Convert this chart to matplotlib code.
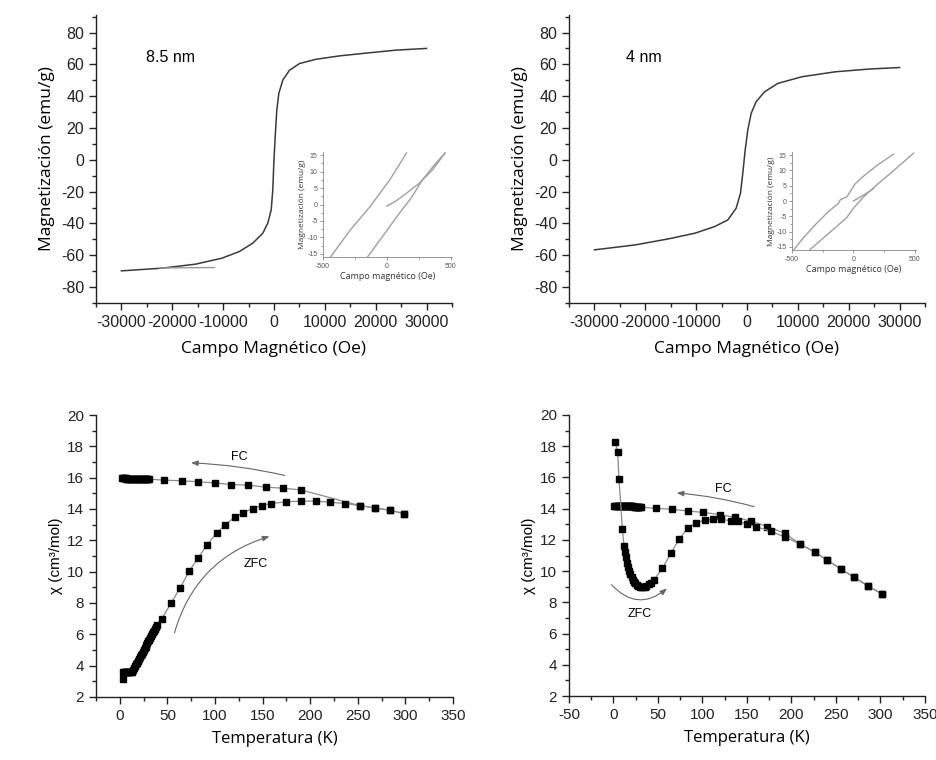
import matplotlib
matplotlib.use("Agg")
import matplotlib.pyplot as plt
from matplotlib.patches import FancyArrowPatch
from matplotlib.ticker import MultipleLocator

plt.rcParams["axes.unicode_minus"] = False

# ---------------- data ----------------
# M(H) loops (main panels)
H_85 = [-30000, -22000, -15440, -10200, -6790, -4170, -2200, -1220, -550, -236, -39, 236, 551, 944, 1730, 3050, 5020, 8300, 12900, 17340, 23900, 30000]
M_85 = [-69.8, -68.1, -65.6, -61.8, -57.6, -52.4, -46.1, -39.8, -31.5, -18.9, -2.2, 14.5, 31.2, 41.7, 50.1, 56.3, 60.5, 63.2, 65.3, 66.8, 68.9, 70.0]
H_85_ret = [-22500, -11700]
M_85_ret = [-68.0, -67.7]

H_4 = [-30000, -22000, -15440, -10200, -6390, -3770, -2130, -1280, -830, -360, 160, 820, 1800, 3440, 6060, 10800, 17340, 23900, 30000]
M_4 = [-56.6, -53.5, -49.7, -46.1, -42.0, -37.8, -30.4, -21.0, -8.5, 6.1, 18.7, 29.2, 36.5, 42.7, 48.0, 52.2, 55.3, 57.0, 58.0]

# inset loops (low field)
ins85_desc_H = [-441, -287, -133, 21, 154]
ins85_desc_M = [-16.0, -7.8, -0.7, 7.4, 15.7]
ins85_asc_H = [-152, -31, 97, 187, 277, 379, 456]
ins85_asc_M = [-16.0, -9.6, -2.7, 1.8, 7.4, 12.4, 15.7]
ins85_vir_H = [0, 72, 149, 251, 354, 456]
ins85_vir_M = [-0.5, 1.1, 3.3, 6.4, 10.4, 15.7]

ins4_desc_H = [-485, -409, -300, -204, -123, -104, -54, -27, 14, 82, 191, 327]
ins4_desc_M = [-15.9, -12.1, -7.3, -3.5, -0.8, 0.5, 1.3, 3.0, 5.6, 8.1, 11.6, 15.3]
ins4_asc_H = [-354, -245, -136, -54, 0, 82, 191, 327, 490]
ins4_asc_M = [-15.9, -12.1, -8.3, -5.4, -2.4, 1.3, 5.3, 9.9, 15.6]
ins4_vir_H = [0, 82, 163]
ins4_vir_M = [0.0, 1.9, 4.0]

# chi(T) 8.5 nm
T85_fc = [2, 3, 4, 5, 6, 7, 8, 9, 10, 11, 12, 13, 14, 15, 16, 17, 18, 19, 20, 21, 22, 23, 24, 25, 26, 27, 28, 29, 30, 31,
          46.8, 65.3, 82, 99.5, 117, 135, 154, 171, 190, 252, 268, 283.6, 298.6]
X85_fc = [15.95, 15.95, 15.95, 15.95, 15.95, 15.94, 15.94, 15.94, 15.94, 15.94, 15.93, 15.93, 15.93, 15.93, 15.93, 15.92, 15.92, 15.92, 15.92, 15.92,
          15.91, 15.91, 15.91, 15.91, 15.91, 15.9, 15.9, 15.9, 15.9, 15.9,
          15.84, 15.8, 15.74, 15.67, 15.56, 15.52, 15.39, 15.33, 15.22, 14.22, 14.07, 13.92, 13.71]
T85_zfc = [3.1, 3.5, 4, 5, 6, 7, 8, 9, 10, 11, 12, 13, 14, 15, 16, 17, 18, 19, 20, 21, 22, 23, 24, 25, 26, 27, 28, 29, 30,
           31, 32, 33, 34, 35, 36, 37, 38, 39, 44, 54, 63.5, 73, 82.4, 92, 101.6, 111, 120.5, 129, 139.7, 149, 159, 175,
           190, 206, 221, 237, 252, 268, 283.6, 298.6]
X85_zfc = [3.13, 3.62, 3.62, 3.62, 3.62, 3.62, 3.62, 3.62, 3.62, 3.62, 3.62, 3.62, 3.74, 3.85, 3.97, 4.08, 4.19, 4.31, 4.42, 4.53,
           4.65, 4.76, 4.87, 4.99, 5.10, 5.21, 5.33, 5.44, 5.55, 5.67, 5.78, 5.89, 6.01, 6.12, 6.23, 6.35, 6.46, 6.57,
           6.99, 8.0, 8.98, 10.04, 10.9, 11.73, 12.47, 13.0, 13.48, 13.75, 14.03, 14.22, 14.35, 14.46,
           14.5, 14.5, 14.43, 14.35, 14.22, 14.07, 13.92, 13.71]

# chi(T) 4 nm
T4_fc = [1, 2, 3, 4, 5, 6, 7, 8, 9, 10, 11, 12, 13, 14, 15, 16, 17, 18, 19, 20, 21, 22, 23, 24, 25, 26, 27, 28, 29, 30, 31,
         48, 66, 83.6, 101, 119.5, 137, 155, 173, 192.5, 209.5, 226.6, 240, 255.5, 270.5, 285.5, 301.6]
X4_fc = [14.2, 14.2, 14.2, 14.2, 14.19, 14.19, 14.19, 14.19, 14.18, 14.18, 14.18, 14.18, 14.17, 14.17, 14.17, 14.16, 14.16,
         14.15, 14.15, 14.15, 14.14, 14.14, 14.13, 14.13, 14.12, 14.12, 14.11, 14.11, 14.1, 14.1, 14.1,
         14.02, 13.96, 13.85, 13.76, 13.62, 13.44, 13.2, 12.85, 12.42, 11.74, 11.2, 10.71, 10.13, 9.6, 9.07, 8.53]
T4_zfc = [2.1, 4.7, 6.2, 10, 11.8, 13, 14.5, 15.5, 16.3, 17.5, 19, 20.5, 22, 23.3, 24.6, 26, 27.6, 29.5, 31.3, 33, 35, 37,
          39.6, 42, 45.2, 55, 64.7, 74, 83.8, 92.8, 103, 112.3, 121.3, 131.5, 140, 150.5, 160, 176.8, 192.5, 209.5,
          226.6, 240, 255.5, 270.5, 285.5, 301.6]
X4_zfc = [18.25, 17.6, 15.88, 12.68, 11.63, 11.2, 10.88, 10.5, 10.28, 10.0, 9.79, 9.6, 9.43, 9.32, 9.22, 9.12, 9.05, 9.0,
          8.96, 8.96, 9.0, 9.06, 9.15, 9.25, 9.43, 10.18, 11.18, 12.06, 12.78, 13.1, 13.27, 13.32, 13.32, 13.23, 13.19,
          13.0, 12.85, 12.55, 12.18, 11.74, 11.2, 10.71, 10.13, 9.6, 9.07, 8.53]

# ---------------- figure ----------------
W, Hh = 937, 760
fig = plt.figure(figsize=(W / 100, Hh / 100), dpi=100)

TICKFONT = "Liberation Sans"
LABFONT = "Open Sans"


def box(x0, y0, x1, y1):
    return [x0 / W, 1 - y1 / Hh, (x1 - x0) / W, (y1 - y0) / Hh]


def style(ax, size=11, major=5, minor=3, lw=1.0, color="#222222"):
    for s in ("top", "right"):
        ax.spines[s].set_visible(False)
    for s in ("left", "bottom"):
        ax.spines[s].set_linewidth(lw)
        ax.spines[s].set_color(color)
    ax.tick_params(which="major", direction="out", length=major, width=lw, color=color,
                   labelsize=size, labelcolor="#222222")
    ax.tick_params(which="minor", direction="out", length=minor, width=lw, color=color)
    for lab in ax.get_xticklabels() + ax.get_yticklabels():
        lab.set_fontfamily(TICKFONT)


def mh_axes(rect, H, M, label, lx):
    ax = fig.add_axes(rect)
    ax.plot(H, M, color="#3a3a3a", lw=1.1)
    ax.set_xlim(-35000, 35000)
    ax.set_ylim(-90, 91)
    ax.xaxis.set_major_locator(MultipleLocator(10000))
    ax.xaxis.set_minor_locator(MultipleLocator(5000))
    ax.yaxis.set_major_locator(MultipleLocator(20))
    ax.yaxis.set_minor_locator(MultipleLocator(10))
    style(ax, size=11.5)
    ax.set_xlabel("Campo Magnético (Oe)", fontfamily=LABFONT, fontsize=12.5, labelpad=8)
    ax.set_ylabel("Magnetización (emu/g)", fontfamily=LABFONT, fontsize=12.5, labelpad=4)
    ax.text(lx, 64, label, fontfamily=TICKFONT, fontsize=11.5, ha="center", va="center")
    return ax


ax1 = mh_axes(box(96, 15, 452, 303), H_85, M_85, "8.5 nm", -20300)
ax1.plot(H_85_ret, M_85_ret, color="#9a9a9a", lw=1.0)
ax2 = mh_axes(box(569, 15, 925, 303), H_4, M_4, "4 nm", -20200)


# ---- insets
def inset(rect, desc, asc, vir):
    ai = fig.add_axes(rect)
    for (hx, my) in (desc, asc, vir):
        ai.plot(hx, my, color="#a0a0a0", lw=1.0)
    ai.set_xlim(-500, 510)
    ai.set_ylim(-16, 16)
    ai.xaxis.set_major_locator(MultipleLocator(500))
    ai.xaxis.set_minor_locator(MultipleLocator(250))
    ai.yaxis.set_major_locator(MultipleLocator(5))
    ai.yaxis.set_minor_locator(MultipleLocator(2.5))
    style(ai, size=5, major=2.5, minor=1.5, lw=0.6, color="#888888")
    ai.tick_params(labelcolor="#555555", pad=1.5)
    ai.set_xlabel("Campo magnético (Oe)", fontfamily=LABFONT, fontsize=6.5, labelpad=2, color="#333333")
    ai.set_ylabel("Magnetización (emu/g)", fontfamily=LABFONT, fontsize=6, labelpad=1, color="#333333")
    ai.patch.set_alpha(0)
    return ai


inset(box(323, 152, 452, 257), (ins85_desc_H, ins85_desc_M), (ins85_asc_H, ins85_asc_M), (ins85_vir_H, ins85_vir_M))
inset(box(792, 152, 916, 250), (ins4_desc_H, ins4_desc_M), (ins4_asc_H, ins4_asc_M), (ins4_vir_H, ins4_vir_M))


# ---- chi(T) panels
def chi_axes(rect, xmin):
    ax = fig.add_axes(rect)
    ax.set_xlim(xmin, 350)
    ax.set_ylim(2, 20)
    ax.xaxis.set_major_locator(MultipleLocator(50))
    ax.xaxis.set_minor_locator(MultipleLocator(25))
    ax.yaxis.set_major_locator(MultipleLocator(2))
    ax.yaxis.set_minor_locator(MultipleLocator(1))
    style(ax, size=11)
    ax.set_xlabel("Temperatura (K)", fontfamily=LABFONT, fontsize=12, labelpad=6)
    ax.set_ylabel("χ (cm³/mol)", fontfamily=TICKFONT, fontsize=11, labelpad=3)
    return ax


def series(ax, T, X):
    ax.plot(T, X, color="#8a8a8a", lw=0.9, marker="s", ms=5.0, mfc="black", mec="black")


def arrow(ax, p0, p1, rad):
    ax.add_patch(FancyArrowPatch(p0, p1, connectionstyle=f"arc3,rad={rad}",
                                 arrowstyle="-|>,head_length=4,head_width=1.6", color="#666666", lw=0.8))


ax3 = chi_axes(box(96, 415, 453, 697), -25)
series(ax3, T85_fc, X85_fc)
series(ax3, T85_zfc, X85_zfc)
arrow(ax3, (176, 16.1), (72, 16.95), 0.05)
ax3.text(126, 17.35, "FC", fontfamily=TICKFONT, fontsize=9, ha="center", va="center")
arrow(ax3, (56.6, 5.93), (160, 12.3), -0.28)
ax3.text(143, 10.5, "ZFC", fontfamily=TICKFONT, fontsize=9, ha="center", va="center")

ax4 = chi_axes(box(569, 415, 925, 696), -50)
series(ax4, T4_fc, X4_fc)
series(ax4, T4_zfc, X4_zfc)
arrow(ax4, (161, 14.08), (68, 15.02), 0.05)
ax4.text(123, 15.26, "FC", fontfamily=TICKFONT, fontsize=9, ha="center", va="center")
arrow(ax4, (-4.3, 9.26), (62.4, 9.0), 0.5)
ax4.text(29, 7.23, "ZFC", fontfamily=TICKFONT, fontsize=9, ha="center", va="center")

fig.savefig("out.png", dpi=100)
